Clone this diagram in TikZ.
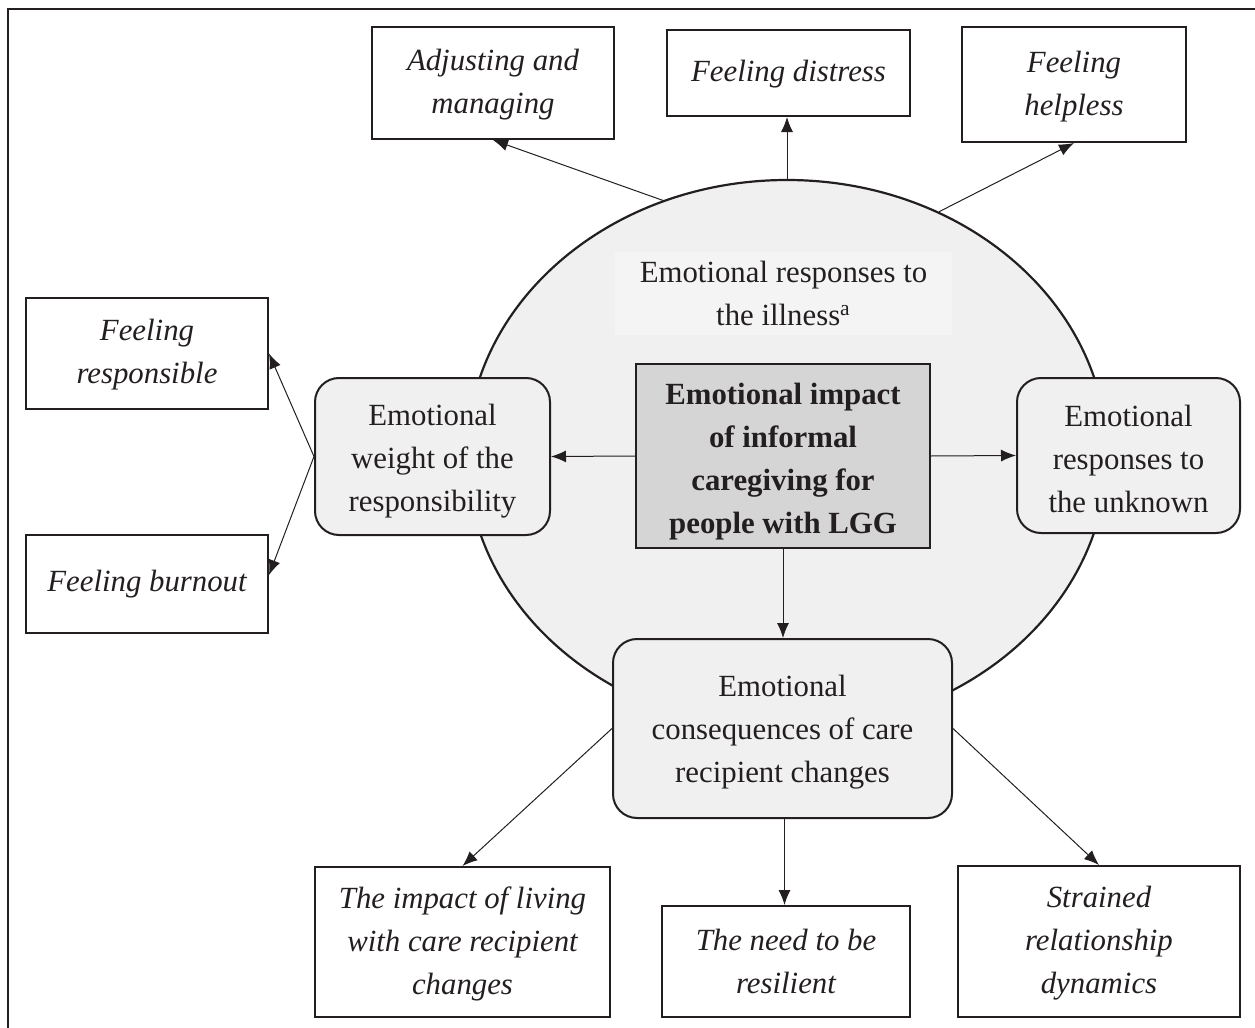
\documentclass[tikz,border=0pt]{standalone}
\usepackage{fontspec}
\setmainfont{Liberation Serif}
\usetikzlibrary{shapes.geometric,arrows.meta,calc}
\definecolor{ink}{HTML}{231F20}
\definecolor{lightfill}{HTML}{F0F0F0}
\definecolor{paleband}{HTML}{F4F4F4}
\definecolor{midfill}{HTML}{D5D5D5}
\newcommand\mystrut[1]{\rule{0pt}{#1}}
\begin{document}
\begin{tikzpicture}[x=0.5pt,y=-0.5pt,
  font=\fontsize{15.4}{21.5}\selectfont,
  every node/.style={inner sep=0pt, align=center, text=ink},
  leaf/.style={draw=ink, line width=1pt, fill=white, font=\fontsize{15.4}{21.5}\selectfont\itshape},
  theme/.style={draw=ink, line width=1pt, fill=lightfill, rounded corners=12pt},
  core/.style={draw=ink, line width=1pt, fill=midfill, font=\fontsize{15.4}{21.5}\selectfont\bfseries},
  arr/.style={draw=ink, line width=0.5pt, -{Latex[length=7.5pt,width=6pt]}}]
\useasboundingbox (0,0) rectangle (1255,1028);
% frame
\draw[ink, line width=1pt] (8,1028) -- (8,9) -- (1255,9);
% ellipse
\node[ellipse, draw=ink, line width=1.1pt, fill=lightfill, minimum width=320pt, minimum height=275pt] (ell) at (787,455) {};
\node[fill=paleband, minimum width=168.5pt, minimum height=41.5pt] (ill) at (783.5,293.5) {Emotional responses to\\the illness\textsuperscript{a}};
% top leaves
\node[leaf, minimum width=121pt, minimum height=56pt] (adj) at (493,83) {\mystrut{12.5pt}Adjusting and\\managing};
\node[leaf, minimum width=121.5pt, minimum height=43pt] (dis) at (788.5,73) {\mystrut{12pt}Feeling distress};
\node[leaf, minimum width=112pt, minimum height=57.5pt] (help) at (1074,84.5) {\mystrut{12.5pt}Feeling\\helpless};
% left leaves
\node[leaf, minimum width=121pt, minimum height=55.5pt] (resp) at (147,353.5) {\mystrut{12pt}Feeling\\responsible};
\node[leaf, minimum width=121pt, minimum height=49pt] (burn) at (147,584) {Feeling burnout};
% bottom leaves
\node[leaf, minimum width=147.5pt, minimum height=75pt] (imp) at (462.5,942) {\mystrut{12.5pt}The impact of living\\with care recipient\\changes};
\node[leaf, minimum width=124pt, minimum height=55.5pt] (need) at (786,961.5) {The need to be\\resilient};
\node[leaf, minimum width=141pt, minimum height=75.5pt] (strn) at (1099,941.5) {\mystrut{12pt}Strained\\relationship\\dynamics};
% themes
\node[core, minimum width=147pt, minimum height=92pt] (ctr) at (783,456) {\mystrut{16.5pt}Emotional impact\\of informal\\caregiving for\\people with LGG};
\node[theme, minimum width=117.5pt, minimum height=78.5pt] (wgt) at (432.5,456.5) {\mystrut{15.5pt}Emotional\\weight of the\\responsibility};
\node[theme, minimum width=111.5pt, minimum height=77.5pt] (unk) at (1128.5,455.5) {\mystrut{14pt}Emotional\\responses to\\the unknown};
\node[theme, minimum width=169.5pt, minimum height=89.5pt] (cons) at (782.5,728.5) {\mystrut{14pt}Emotional\\consequences of care\\recipient changes};
% connectors
\coordinate (cb) at ($(cons.south)+(2,0)$);
\draw[arr] (ell.116) -- (adj.south);
\draw[arr] (ell.north) -- (ell.north |- dis.south);
\draw[arr] (ell.58) -- (help.south);
\draw[arr] (ctr.west) -- (wgt.east);
\draw[arr] (ctr.east) -- (unk.west);
\draw[arr] (ctr.south) -- (ctr.south |- cons.north);
\draw[arr] (wgt.west) -- (resp.east);
\draw[arr] (wgt.west) -- ($(burn.east)+(0,-9)$);
\draw[arr] (cons.west) -- (imp.north);
\draw[arr] (cb) -- (cb |- need.north);
\draw[arr] (cons.east) -- (strn.north);
\end{tikzpicture}
\end{document}
